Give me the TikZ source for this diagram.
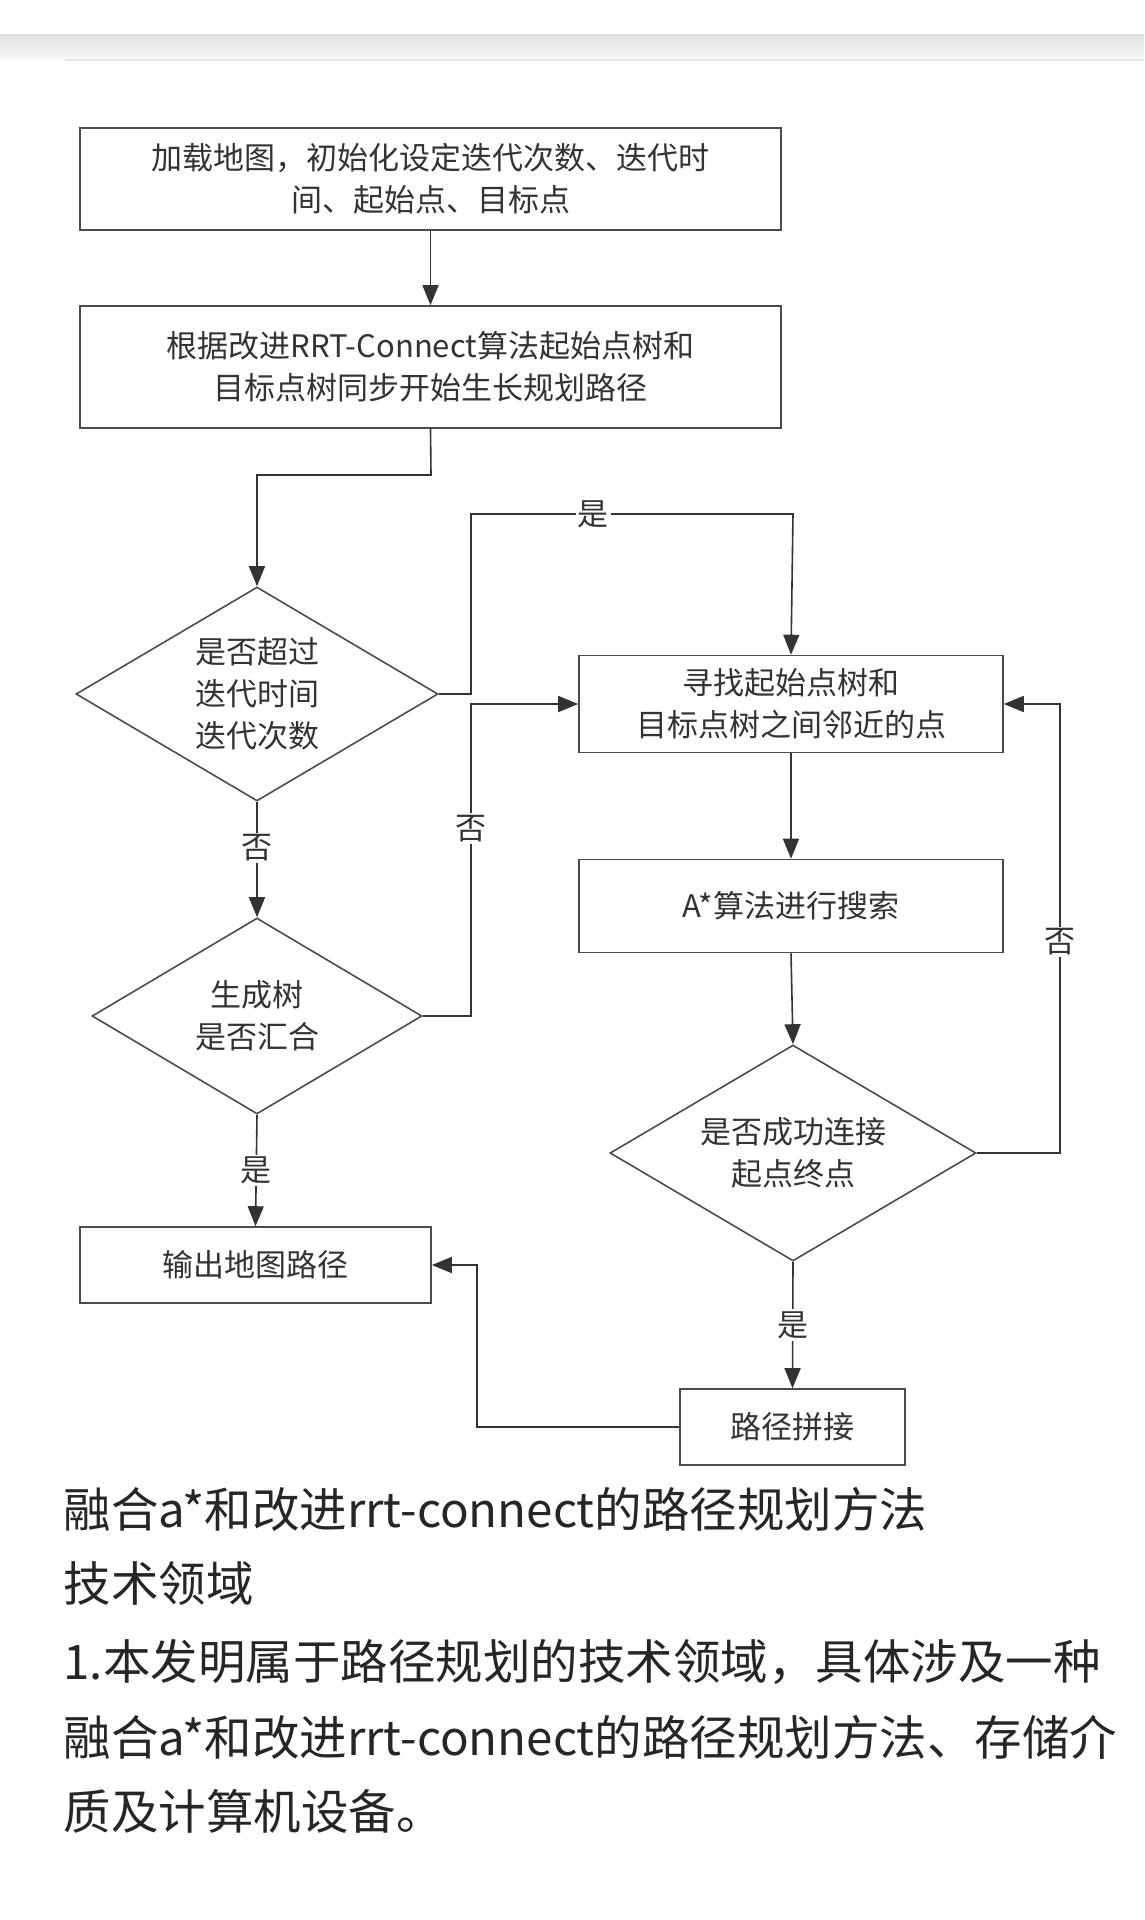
\documentclass[tikz,border=0pt]{standalone}
\usepackage{fontspec}
\setmainfont{Noto Sans CJK SC}
\usetikzlibrary{shapes.geometric,arrows.meta}
\begin{document}
\begin{tikzpicture}[x=1pt,y=-1pt,
  box/.style={draw=black!70,line width=1.6pt,rectangle,inner sep=0pt,align=center,font=\fontsize{31}{42}\selectfont,text=black!80},
  dia/.style={draw=black!70,line width=1.6pt,diamond,inner sep=0pt,align=center,font=\fontsize{31}{42}\selectfont,text=black!80},
  ln/.style={draw=black!80,line width=1.6pt},
  ar/.style={ln,-{Triangle[length=20pt,width=16pt]}},
  lab/.style={fill=white,inner sep=2pt,font=\fontsize{31}{36}\selectfont,text=black!80},
  body/.style={anchor=west,font=\fontsize{47.5}{58}\selectfont,text=black!85}]
\useasboundingbox (0,0) rectangle (1144,1920);
\fill[white] (0,0) rectangle (1144,1920);
\shade[top color=black!12,bottom color=black!3] (0,34) rectangle (1144,58);
\draw[black!10,line width=1.5pt] (65,60) -- (1144,60);
\node[box,minimum width=701pt,minimum height=102pt] (b1) at (430.5,179) {加载地图，初始化设定迭代次数、迭代时\\间、起始点、目标点};
\node[box,minimum width=701pt,minimum height=122pt] (b2) at (430.5,367) {根据改进RRT-Connect算法起始点树和\\目标点树同步开始生长规划路径};
\node[dia,shape aspect=1.69,minimum width=362pt,minimum height=214pt] (d1) at (257,694) {是否超过\\迭代时间\\迭代次数};
\node[dia,shape aspect=1.68,minimum width=330pt,minimum height=196pt] (d2) at (257,1016) {生成树\\是否汇合};
\node[box,minimum width=351pt,minimum height=76pt] (out) at (255.5,1265) {输出地图路径};
\node[box,minimum width=424pt,minimum height=97pt] (find) at (791,704) {寻找起始点树和\\目标点树之间邻近的点};
\node[box,minimum width=424pt,minimum height=93pt] (astar) at (791,906) {A*算法进行搜索};
\node[dia,shape aspect=1.69,minimum width=366pt,minimum height=216pt] (d3) at (793,1153) {是否成功连接\\起点终点};
\node[box,minimum width=225pt,minimum height=76pt] (path) at (792.5,1427) {路径拼接};
\coordinate (c1) at (431,475); \coordinate (c2) at (257,475);
\coordinate (c3) at (471,694); \coordinate (c4) at (471,514); \coordinate (c5) at (793,514);
\coordinate (c6) at (471,1016); \coordinate (c7) at (471,704);
\coordinate (c8) at (1060,1153); \coordinate (c9) at (1060,704);
\coordinate (c10) at (477,1427); \coordinate (c11) at (477,1265);
\draw[ar] (b1.south) -- (b2.north);
\draw[ar] (b2.south) -- (c1) -- (c2) -- (d1.north);
\draw[ar] (d1.east) -- (c3) -- (c4) -- node[lab,pos=0.38]{是} (c5) -- (find.north);
\draw[ar] (d2.east) -- (c6) -- node[lab,pos=0.6]{否} (c7) -- (find.west);
\draw[ar] (d1.south) -- node[lab,pos=0.4]{否} (d2.north);
\draw[ar] (d2.south) -- node[lab,pos=0.5]{是} (out.north);
\draw[ar] (find.south) -- (astar.north);
\draw[ar] (astar.south) -- (d3.north);
\draw[ar] (d3.east) -- (c8) -- node[lab,pos=0.47]{否} (c9) -- (find.east);
\draw[ar] (d3.south) -- node[lab,pos=0.5]{是} (path.north);
\draw[ar] (path.west) -- (c10) -- (c11) -- (out.east);
\node[body] (t1) at (60,1509) {融合a*和改进rrt-connect的路径规划方法};
\node[body] (t2) at (60,1584) {技术领域};
\node[body] (t3) at (60,1662) {1.本发明属于路径规划的技术领域，具体涉及一种};
\node[body] (t4) at (60,1737) {融合a*和改进rrt-connect的路径规划方法、存储介};
\node[body] (t5) at (60,1811) {质及计算机设备。};
\end{tikzpicture}
\end{document}
